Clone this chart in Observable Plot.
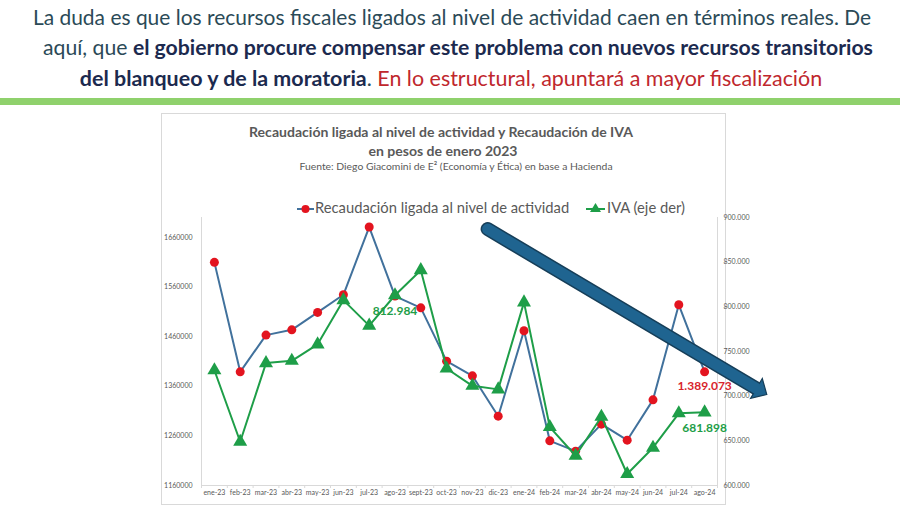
<!DOCTYPE html>
<html><head><meta charset="utf-8">
<script src="https://cdn.jsdelivr.net/npm/d3@7"></script>
<script src="https://cdn.jsdelivr.net/npm/@observablehq/plot@0.6"></script>
<style>
html,body{margin:0;padding:0;background:#fff;}
#page{position:relative;width:900px;height:505px;overflow:hidden;font-family:Lato,"Open Sans",sans-serif;}
.line{position:absolute;white-space:nowrap;}
.line .fit{display:inline-block;}
#bar{position:absolute;left:0;top:98px;width:900px;height:7px;background:#8fd16c;}
#box{position:absolute;left:161px;top:113px;width:563px;height:390px;border:1px solid #d9d9d9;background:#fff;}
#plot{position:absolute;left:0;top:0;}
</style></head>
<body><div id="page">
<div id="bar"></div>
<div id="box"></div>
<div id="plot"></div>
<div class="line" data-cx="452" data-cy="16" data-w="838" style="color:#2b4a57;font-size:21px;"><span class="fit">La duda es que los recursos fiscales ligados al nivel de actividad caen en términos reales. De</span></div>
<div class="line" data-cx="458" data-cy="47" data-w="830" style="color:#2b4a57;font-size:21px;"><span class="fit">aquí, que <b style="color:#1c2a4f">el gobierno procure compensar este problema con nuevos recursos transitorios</b></span></div>
<div class="line" data-cx="451" data-cy="78" data-w="742" style="color:#2b4a57;font-size:21px;"><span class="fit"><b style="color:#1c2a4f">del blanqueo y de la moratoria</b>. <span style="color:#c0272d">En lo estructural, apuntará a mayor fiscalización</span></span></div>
<div class="line" id="t1" data-cx="441" data-cy="131" data-w="384" style="color:#595959;font-size:15px;font-weight:bold;"><span class="fit">Recaudación ligada al nivel de actividad y Recaudación de IVA</span></div>
<div class="line" id="t2" data-cx="443" data-cy="150" data-same="t1" style="color:#595959;font-size:15px;font-weight:bold;"><span class="fit">en pesos de enero 2023</span></div>
<div class="line" data-cx="456" data-cy="166" data-w="313" style="color:#595959;font-size:10px;"><span class="fit">Fuente: Diego Giacomini de E² (Economía y Ética) en base a Hacienda</span></div>
<div class="line" id="lg1t" data-left="315" data-cy="207" data-w="254" style="color:#595959;font-size:15px;"><span class="fit"></span></div>
<div class="line" id="lg2t" data-left="607" data-cy="207" data-same="lg1t" style="color:#595959;font-size:15px;"><span class="fit"></span></div>
<div class="line" id="lg1m" style="left:297px;top:200px;"></div>
<div class="line" id="lg2m" style="left:586px;top:199px;"></div>
</div>
<script>
const months = ["ene-23","feb-23","mar-23","abr-23","may-23","jun-23","jul-23","ago-23","sept-23","oct-23","nov-23","dic-23","ene-24","feb-24","mar-24","abr-24","may-24","jun-24","jul-24","ago-24"];
const recaudacion = [1609600,1389000,1463000,1473700,1508800,1544300,1680800,1541700,1518000,1410600,1381000,1299700,1471700,1250000,1229200,1283600,1251300,1332600,1524100,1389073];
const iva = [729000,649000,737000,739600,758000,807500,779000,812984,841000,731000,711600,707600,805000,665400,633300,677000,612900,642300,680800,681898];
const leftDomain = [1160000, 1700000];
const rightDomain = [600000, 900000];
const leftTicks = [1160000,1260000,1360000,1460000,1560000,1660000];
const rightTicks = [600000,650000,700000,750000,800000,850000,900000];
const seriesNames = ["Recaudación ligada al nivel de actividad", "IVA (eje der)"];
const labelled = [["iva","ago-23"],["recaudacion","ago-24"],["iva","ago-24"]];
// trend arrow annotation, in (month index, left-axis value)
const trendArrow = [{x:10.59, y:1676700},{x:21.01, y:1355600}];

const k = (leftDomain[1]-leftDomain[0])/(rightDomain[1]-rightDomain[0]);
const toLeft = v => leftDomain[0] + (v - rightDomain[0]) * k;
const fromLeft = v => rightDomain[0] + (v - leftDomain[0]) / k;
const loc = d3.formatLocale({decimal:",", thousands:".", grouping:[3], currency:["$",""]});
const fmt = loc.format(",d");

const recData = months.map((m,i)=>({i, m, v: recaudacion[i], y: recaudacion[i]}));
const ivaData = months.map((m,i)=>({i, m, v: iva[i], y: toLeft(iva[i])}));
const labData = labelled.map(([s,m]) => {
  const d = (s==="iva"?ivaData:recData).find(e=>e.m===m);
  return {...d, s, t: fmt(d.v)};
});

const BLUE="#41719c", RED="#e3141f", GREEN="#1e9e48", ARW="#1f6490", ARWD="#163e58";
const head = {draw(ctx){ ctx.moveTo(0,-12); ctx.lineTo(11.5,0); ctx.lineTo(-11.5,0); ctx.closePath(); }};

const chart = Plot.plot({
  width:900, height:505,
  marginLeft:201, marginRight:183, marginTop:217, marginBottom:20,
  x:{type:"linear", domain:[-0.5,19.5]},
  y:{domain:leftDomain},
  style:{fontFamily:"Lato, sans-serif", fontSize:"7px", color:"#595959", background:"transparent", overflow:"visible"},
  marks:[
    Plot.ruleX([-0.5,19.5], {y1:leftDomain[0], y2:leftDomain[1], stroke:"#d9d9d9"}),
    Plot.ruleY([leftDomain[0]], {stroke:"#d9d9d9"}),
    Plot.axisY({ticks:leftTicks, tickFormat:d3.format("d"), tickSize:0, tickPadding:9, label:null, anchor:"left"}),
    Plot.axisY({ticks:rightTicks.map(toLeft), tickFormat:d=>fmt(Math.round(fromLeft(d))), tickSize:0, tickPadding:6, label:null, anchor:"right"}),
    Plot.axisX({ticks:d3.range(20), tickFormat:i=>months[i], tickSize:0, tickPadding:5, label:null}),
    Plot.axisX({ticks:d3.range(-0.5,20,1), tickFormat:()=>"", tickSize:3, stroke:"#d9d9d9", label:null}),
    Plot.line(recData, {x:"i", y:"y", stroke:BLUE, strokeWidth:2}),
    Plot.dot(recData, {x:"i", y:"y", r:4.5, fill:RED}),
    Plot.line(ivaData, {x:"i", y:"y", stroke:GREEN, strokeWidth:2}),
    Plot.dot(ivaData, {x:"i", y:"y", symbol:"triangle", r:5.2, fill:GREEN}),
    Plot.text(labData.filter(d=>d.s==="iva"), {x:"i", y:"y", text:"t", dy:16, fill:GREEN, fontWeight:"bold", fontSize:12}),
    Plot.text(labData.filter(d=>d.s!=="iva"), {x:"i", y:"y", text:"t", dy:14, fill:"#d8232b", fontWeight:"bold", fontSize:12}),
    Plot.line(trendArrow, {x:"x", y:"y", stroke:ARWD, strokeWidth:14}),
    Plot.dot([trendArrow[1]], {x:"x", y:"y", symbol:head, rotate:120.6, fill:ARW, stroke:ARWD, strokeWidth:1.2}),
    Plot.line(trendArrow, {x:"x", y:"y", stroke:ARW, strokeWidth:11})
  ]
});
document.getElementById("plot").appendChild(chart);

document.querySelector("#lg1t .fit").textContent = seriesNames[0];
document.querySelector("#lg2t .fit").textContent = seriesNames[1];
document.getElementById("lg1m").innerHTML =
  `<svg width="17" height="14"><line x1="0" y1="7" x2="17" y2="7" stroke="${BLUE}" stroke-width="2"/><circle cx="8.5" cy="7" r="4" fill="${RED}"/></svg>`;
document.getElementById("lg2m").innerHTML =
  `<svg width="19" height="14"><line x1="0" y1="8" x2="19" y2="8" stroke="${GREEN}" stroke-width="2"/><path d="M9.5,2 L15,11 L4,11 Z" fill="${GREEN}"/></svg>`;

function layout(){
  document.querySelectorAll(".line[data-cy]").forEach(div=>{
    const span = div.querySelector(".fit");
    let fs;
    if (div.dataset.same) fs = parseFloat(document.getElementById(div.dataset.same).style.fontSize);
    else {
      const target = +div.dataset.w;
      fs = parseFloat(getComputedStyle(div).fontSize);
      const w = span.getBoundingClientRect().width;
      fs = fs*target/w;
    }
    div.style.fontSize = fs+"px";
    const r = div.getBoundingClientRect();
    const sw = span.getBoundingClientRect().width;
    div.style.top = (+div.dataset.cy - r.height/2)+"px";
    div.style.left = (div.dataset.left ? +div.dataset.left : +div.dataset.cx - sw/2)+"px";
  });
}
layout();
if (document.fonts && document.fonts.ready) document.fonts.ready.then(layout);
</script>
</body></html>
